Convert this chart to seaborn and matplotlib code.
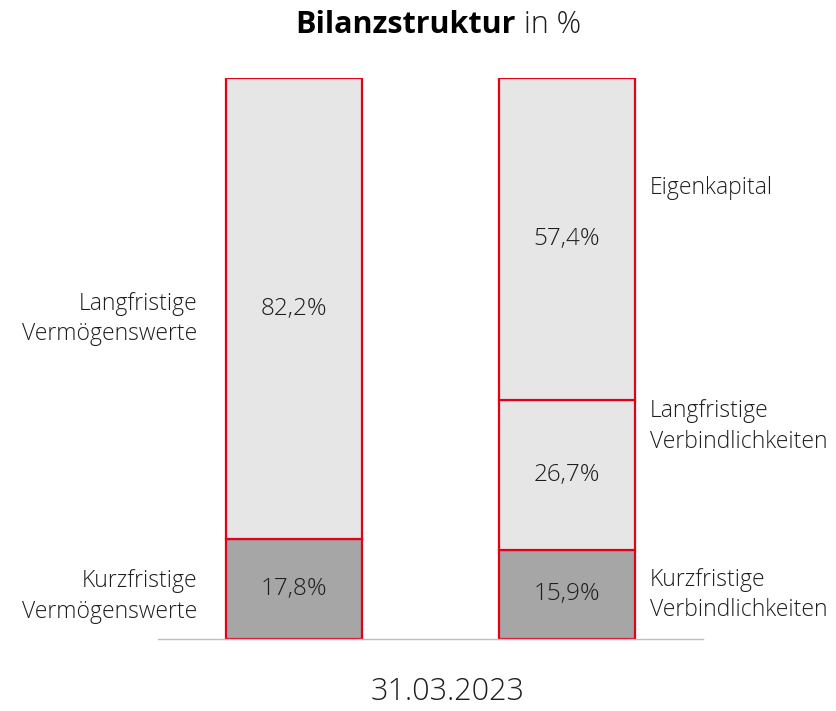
import matplotlib
matplotlib.use("Agg")
import matplotlib.pyplot as plt
import seaborn as sns
import pandas as pd

sns.set_theme(style="white")
plt.rcParams['font.family'] = ['Open Sans', 'DejaVu Sans']

# Data
columns = ["Aktiva", "Passiva"]
short_term = [17.8, 15.9]          # Kurzfristige Vermögenswerte / Verbindlichkeiten
long_term = [82.2, 26.7]           # Langfristige Vermögenswerte / Verbindlichkeiten
equity = [0.0, 57.4]               # Eigenkapital
date_label = "31.03.2023"

df = pd.DataFrame({"col": columns, "short": short_term, "long": long_term, "eq": equity})

RED = "#E2001A"
LIGHT = "#E6E6E6"
DARK = "#A6A6A6"
TXT = "#1E1E1E"

fig = plt.figure(figsize=(8.37, 7.11), dpi=100)
ax = fig.add_axes([158/837, 72/711, 545/837, 561/711])

lw = 1.6
sns.barplot(data=df, x="col", y="short", color=DARK, edgecolor=RED, linewidth=lw,
            width=0.5, saturation=1, ax=ax)
sns.barplot(data=df, x="col", y="long", bottom=df["short"], color=LIGHT, edgecolor=RED,
            linewidth=lw, width=0.5, saturation=1, ax=ax)
eq_df = df[df["eq"] > 0]
ax.bar([1], eq_df["eq"].values, bottom=(df["short"] + df["long"]).values[1:], width=0.5,
       color=LIGHT, edgecolor=RED, linewidth=lw)

ax.set_xlim(-0.5, 1.5)
ax.set_ylim(0, 100)
ax.set_xlabel("")
ax.set_ylabel("")
ax.set_xticks([])
ax.set_yticks([])
for s in ["top", "right", "left"]:
    ax.spines[s].set_visible(False)
ax.spines["bottom"].set_color("#BFBFBF")
ax.spines["bottom"].set_linewidth(1.0)

# Value labels
val_kw = dict(ha="center", va="center", fontsize=17.5, color=TXT, fontweight="light")
for i in range(2):
    s = short_term[i]
    l = long_term[i]
    ax.text(i, s / 2, f"{s:.1f}%".replace(".", ","), **val_kw)
    ax.text(i, s + l / 2, f"{l:.1f}%".replace(".", ","), **val_kw)
    if equity[i] > 0:
        e = equity[i]
        ax.text(i, s + l + e / 2, f"{e:.1f}%".replace(".", ","), **val_kw)

# Category labels
lab_kw = dict(fontsize=16.5, color=TXT, linespacing=1.35, va="center", fontweight="light")
ax.text(-0.355, 57.0, "Langfristige\nVermögenswerte", ha="right", **lab_kw)
ax.text(-0.355, 7.6, "Kurzfristige\nVermögenswerte", ha="right", **lab_kw)
ax.text(1.305, 80.4, "Eigenkapital", ha="left", **lab_kw)
ax.text(1.305, 37.9, "Langfristige\nVerbindlichkeiten", ha="left", **lab_kw)
ax.text(1.305, 7.8, "Kurzfristige\nVerbindlichkeiten", ha="left", **lab_kw)

# Date label
fig.text(448/837, 1 - 692/711, date_label, ha="center", va="center", fontsize=22,
         color=TXT, fontweight="light")

# Title
t1 = fig.text(0.5, 1 - 25/711, "Bilanzstruktur", ha="right", va="center", fontsize=22,
              fontweight="bold", color="black")
t2 = fig.text(0.5, 1 - 25/711, " in %", ha="left", va="center", fontsize=22, color=TXT,
              fontweight="light")
fig.canvas.draw()
bb = t1.get_window_extent()
bb2 = t2.get_window_extent()
total = bb.width + bb2.width
center_px = 438
split = (center_px - total / 2 + bb.width) / 837
t1.set_x(split)
t2.set_x(split)

fig.savefig("out.png", dpi=100, facecolor="white")
